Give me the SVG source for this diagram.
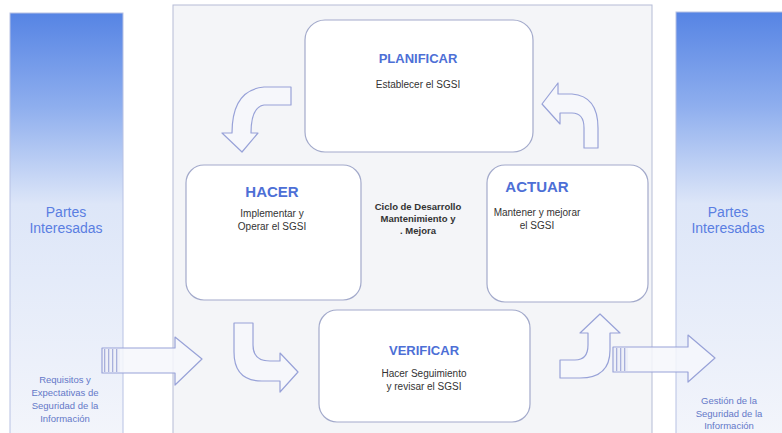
<svg xmlns="http://www.w3.org/2000/svg" width="782" height="433" viewBox="0 0 782 433">
<defs>
<linearGradient id="side" x1="0" y1="0" x2="0" y2="1">
<stop offset="0" stop-color="#5684e4"/>
<stop offset="0.22" stop-color="#8eaeee"/>
<stop offset="0.45" stop-color="#dde6f8"/>
<stop offset="1" stop-color="#f3f5fb"/>
</linearGradient>
<pattern id="stripes" width="4" height="10" patternUnits="userSpaceOnUse">
<rect width="4" height="10" fill="#eef0f8"/>
<rect width="1.3" height="10" fill="#a8b0dc"/>
</pattern>
</defs>
<style>
.panel{fill:url(#side);stroke:#b8c2e4;stroke-width:1}
.center{fill:#f4f5f8;stroke:#b5bcd6;stroke-width:1}
.box{fill:#ffffff;stroke:#a3aacb;stroke-width:1.2}
.arr{fill:#f6f7fb;fill-opacity:0.85;stroke:#98a2d8;stroke-width:1.2;stroke-linejoin:round}
.title{font-family:"Liberation Sans",Arial,sans-serif;font-weight:bold;fill:#4d6fd6;text-anchor:middle}
.body{font-family:"Liberation Sans",Arial,sans-serif;font-size:10px;fill:#333333;text-anchor:middle}
.mid{font-family:"Liberation Sans",Arial,sans-serif;font-size:9.5px;font-weight:bold;fill:#333333;text-anchor:middle}
.partes{font-family:"Liberation Sans",Arial,sans-serif;font-size:14px;fill:#5a7ee2;text-anchor:middle}
.small{font-family:"Liberation Sans",Arial,sans-serif;font-size:9.5px;fill:#6478c8;text-anchor:middle}
</style>
<rect width="782" height="433" fill="#ffffff"/>

<g id="left-panel">
<rect class="panel" x="10" y="13" width="113" height="425"/>
<text class="partes" x="66" y="217">Partes</text>
<text class="partes" x="66" y="233">Interesadas</text>
<text class="small" x="65" y="383">Requisitos y</text>
<text class="small" x="65" y="396">Expectativas de</text>
<text class="small" x="65" y="409">Seguridad de la</text>
<text class="small" x="65" y="422">Información</text>
</g>

<g id="right-panel">
<rect class="panel" x="676" y="12" width="112" height="426"/>
<text class="partes" x="728" y="217">Partes</text>
<text class="partes" x="728" y="233">Interesadas</text>
<text class="small" x="729" y="404">Gestión de la</text>
<text class="small" x="729" y="417">Seguridad de la</text>
<text class="small" x="729" y="429">Información</text>
</g>

<g id="center-panel">
<rect class="center" x="173" y="5" width="479" height="433"/>
</g>

<g id="planificar">
<rect class="box" x="305" y="20" width="228" height="132" rx="20"/>
<text class="title" x="418" y="63" font-size="13">PLANIFICAR</text>
<text class="body" x="418" y="88">Establecer el SGSI</text>
</g>

<g id="hacer">
<rect class="box" x="186" y="165" width="175" height="135" rx="18"/>
<text class="title" x="272" y="197" font-size="15">HACER</text>
<text class="body" x="272" y="217">Implementar y</text>
<text class="body" x="272" y="230">Operar el SGSI</text>
</g>

<g id="ciclo">
<text class="mid" x="418" y="210">Ciclo de Desarrollo</text>
<text class="mid" x="418" y="222">Mantenimiento y</text>
<text class="mid" x="418" y="234">. Mejora</text>
</g>

<g id="actuar">
<rect class="box" x="487" y="165" width="161" height="137" rx="18"/>
<text class="title" x="537" y="192" font-size="15">ACTUAR</text>
<text class="body" x="537" y="216">Mantener y mejorar</text>
<text class="body" x="537" y="229">el SGSI</text>
</g>

<g id="verificar">
<rect class="box" x="319" y="310" width="211" height="112" rx="18"/>
<text class="title" x="424" y="355" font-size="13">VERIFICAR</text>
<text class="body" x="424" y="377">Hacer Seguimiento</text>
<text class="body" x="424" y="390">y revisar el SGSI</text>
</g>

<g id="connectors">
<path class="arr" d="M291 87 L291 105 L264 105 Q251 107 251 133 L258 133 L242 152 L222 133 L232 133 Q232 90 264 87 Z"/>
<path class="arr" d="M542 104 L558 83 L558 94 L572 94 Q598 96 598 128 L598 148 L584 148 L584 128 Q584 113 572 113 L560 113 L560 124 Z"/>
<path class="arr" d="M234 323 L253 323 L253 345 Q253 361 270 361 L280 361 L280 353 L298 372 L280 392 L280 381 L262 381 Q234 381 234 352 Z"/>
<path class="arr" d="M560 360 L575 360 Q588 360 588 345 L588 333 L580 333 L600 314 L620 333 L610 333 L610 350 Q610 378 580 378 L560 378 Z"/>
<path class="arr" d="M102 348 L175 348 L175 337 L202 359 L175 385 L175 373 L102 373 Z"/>
<rect x="103" y="349" width="17" height="23" fill="url(#stripes)"/>
<path class="arr" d="M613 347 L688 347 L688 335 L715 358 L688 382 L688 372 L613 372 Z"/>
<rect x="614" y="348" width="14" height="23" fill="url(#stripes)"/>
</g>
</svg>
